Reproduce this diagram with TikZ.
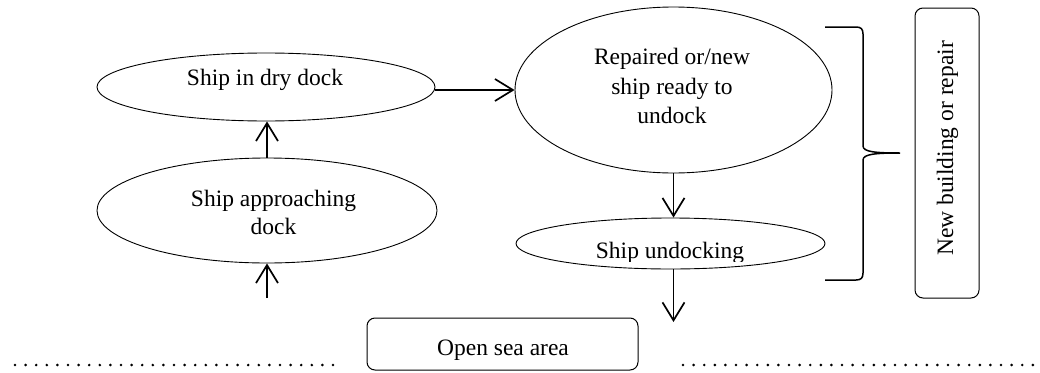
\documentclass[tikz,border=0pt]{standalone}
\usepackage{fontspec}
\setmainfont{Liberation Serif}
\usetikzlibrary{shapes.geometric,arrows.meta,calc}
\begin{document}
\begin{tikzpicture}[x=1pt,y=-1pt,
  oval/.style={ellipse,draw,line width=0.9pt,inner sep=0pt},
  rbox/.style={rectangle,draw,line width=1pt,rounded corners=8pt,inner sep=0pt},
  lbl/.style={anchor=base,inner sep=0pt,font=\fontsize{23.5}{28}\selectfont},
  arr/.style={line width=1.7pt,-{Straight Barb[length=18pt,width=22pt]}},
  dots/.style={line width=2.9pt,line cap=round,dash pattern=on 0pt off 10.6pt}]
\useasboundingbox (0,0) rectangle (1040,372);

% shapes of the process stages
\node[oval,minimum width=338pt,minimum height=68pt]  (dry) at (266,87) {};
\node[oval,minimum width=340pt,minimum height=105pt] (app) at (267,210.5) {};
\node[oval,minimum width=317pt,minimum height=166pt] (rep) at (673.5,90) {};
\node[oval,minimum width=309pt,minimum height=51pt]  (und) at (670.5,243.5) {};
\node[rbox,minimum width=271pt,minimum height=52pt]  (sea) at (502.5,344) {};
\node[rbox,minimum width=64pt,minimum height=290pt]  (nb)  at (947,153) {};

% texts
\node[lbl] (tdry)  at (265,85)    {Ship in dry dock};
\node[lbl] (tapp1) at (273.5,206) {Ship approaching};
\node[lbl] (tapp2) at (273.5,234) {dock};
\node[lbl] (trep1) at (672,64)    {Repaired or/new};
\node[lbl] (trep2) at (672,94)    {ship ready to};
\node[lbl] (trep3) at (672,123)   {undock};
\begin{scope}
  \clip (500,220) rectangle (840,261);
  \node[lbl] (tund) at (670,258) {Ship undocking};
\end{scope}
\node[lbl] (tsea) at (503,355) {Open sea area};
\node[lbl,rotate=90] (tnb) at (953,148.5) {New building or repair};

% flow arrows
\coordinate (appIn) at (267,298);
\coordinate (seaIn) at (673.5,322);
\draw[arr] (appIn) -- (app.south);
\draw[arr] (app.north) -- (app.north |- dry.south);
\draw[arr] (dry.east |- rep.west) -- (rep.west);
\draw[arr] (rep.south) -- (rep.south |- und.north);
\draw[arr] (seaIn |- und.south) -- (seaIn);

% brace grouping the dock stages
\draw[line width=1.5pt] (825,27) -- (856,27)
  .. controls (861,27) and (863,29) .. (863,34) -- (863,146)
  .. controls (863,152) and (876,153) .. (900,153)
  .. controls (876,153) and (863,154) .. (863,160) -- (863,273)
  .. controls (863,278) and (861,280) .. (856,280) -- (825,280);

% dotted shore lines
\coordinate (dl1) at (15,365);
\coordinate (dl2) at (333,365);
\coordinate (dr1) at (683,365);
\coordinate (dr2) at (1035,365);
\draw[dots] (dl1) -- (dl2);
\draw[dots] (dr1) -- (dr2);
\end{tikzpicture}
\end{document}
